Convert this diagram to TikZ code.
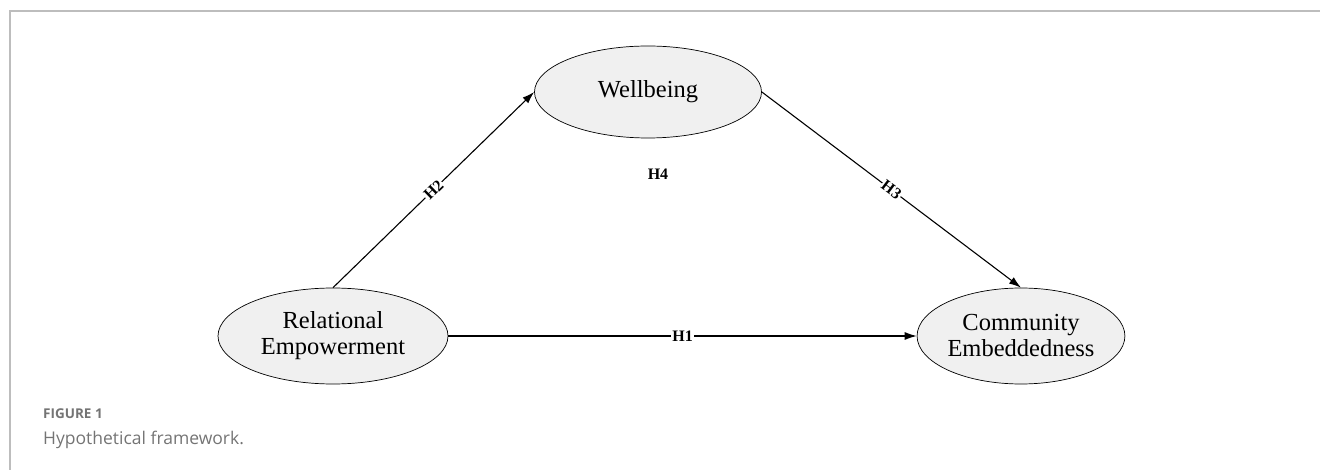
\documentclass[tikz,border=0pt]{standalone}
\usepackage{fontspec}
\setmainfont{Liberation Serif}
\newfontfamily\capfont{Open Sans}
\usetikzlibrary{arrows.meta,positioning,shapes.geometric}
\definecolor{ovalfill}{HTML}{F0F0F0}
\definecolor{framegray}{HTML}{BDBDBD}
\definecolor{capgray}{HTML}{747474}
\tikzset{%
   construct/.style={ellipse, draw=black, line width=0.7pt, fill=ovalfill, inner sep=0pt, align=center, font=\fontsize{24.5}{26}\selectfont},
   hyp/.style={-{Latex[length=12pt,width=8pt]}, line width=1.1pt},
   hlabel/.style={font=\fontsize{16}{17}\selectfont\bfseries, fill=white, inner sep=1pt},
}

\begin{document}
\begin{tikzpicture}[x=1pt, y=-1pt]
   \useasboundingbox (0,0) rectangle (1320,470);
   \draw[framegray, line width=1.6pt] (1320,11) -- (10,11) -- (10,470);
   % constructs
   \node[construct, minimum width=227pt, minimum height=92pt] (wb) at (648,92) {Wellbeing};
   \node[construct, minimum width=230pt, minimum height=96pt] (re) at (333,336) {Relational\\Empowerment};
   \node[construct, minimum width=204pt, minimum height=96pt] (ce) at (1021,336) {Community\\Embeddedness};
   % hypotheses
   \draw[hyp] (re.north) -- (wb.west) node[hlabel, midway, sloped] {H2};
   \draw[hyp] (wb.east) -- (ce.north) node[hlabel, midway, sloped] {H3};
   \draw[hyp] (re.east) -- (ce.west) node[hlabel, midway] {H1};
   \node[hlabel] (h4) at (658,174) {H4};
   % caption
   \node[anchor=base west, inner sep=0pt, text=capgray, font=\capfont\bfseries\fontsize{13.5}{15}\selectfont] (fig) at (43,418) {FIGURE 1};
   \node[anchor=base west, inner sep=0pt, text=capgray, font=\capfont\fontsize{17.5}{20}\selectfont] (cap) at (43,444) {Hypothetical framework.};
\end{tikzpicture}
\end{document}
